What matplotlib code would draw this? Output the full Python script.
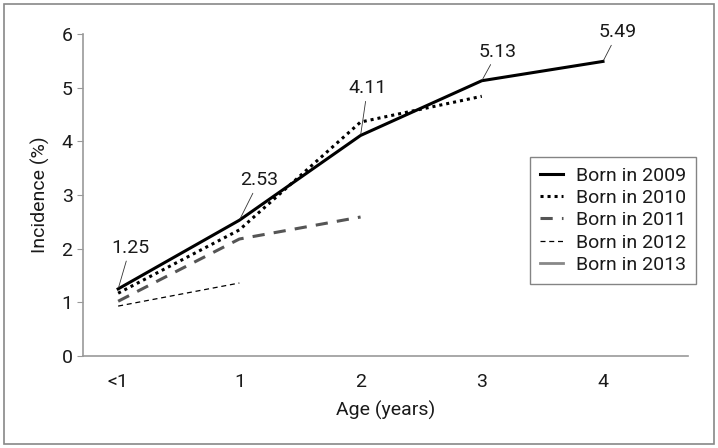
import matplotlib.pyplot as plt
from matplotlib.patches import Rectangle

plt.rcParams['font.family'] = ['Roboto', 'DejaVu Sans']

# Datos
edades = ['<1', '1', '2', '3', '4']
born_2009 = [1.25, 2.53, 4.11, 5.13, 5.49]
born_2010 = [1.17, 2.35, 4.36, 4.84]
born_2011 = [1.02, 2.18, 2.59]
born_2012 = [0.93, 1.36]
born_2013 = [1.0]
etiquetas_2009 = ['1.25', '2.53', '4.11', '5.13', '5.49']
desplaz_etiquetas = [(8.6, 29.5), (14.4, 28.8), (5, 34), (11.5, 21), (10.8, 21)]

texto = '#1a1a1a'

fig = plt.figure(figsize=(7.18, 4.48), dpi=100)
ax = fig.add_axes([0.1156, 0.2054, 0.8424, 0.7186])

# Borde exterior gris
fig.patches.append(Rectangle((0.006, 0.008), 0.988, 0.984, transform=fig.transFigure,
                             fill=False, edgecolor='#888888', linewidth=1.2))

ax.plot(range(len(born_2009)), born_2009, color='black', lw=2.2, ls='-', label='Born in 2009')
ax.plot(range(len(born_2010)), born_2010, color='black', lw=2.2, ls=(0, (1, 1.3)), label='Born in 2010')
ax.plot(range(len(born_2011)), born_2011, color='#555555', lw=2.2, ls=(0, (4, 3)), label='Born in 2011')
ax.plot(range(len(born_2012)), born_2012, color='black', lw=0.9, ls=(0, (4, 3)), label='Born in 2012')
ax.plot(range(len(born_2013)), born_2013, color='#888888', lw=2.0, ls='-', label='Born in 2013')

# Etiquetas con linea guia para 2009
for i, (val, txt) in enumerate(zip(born_2009, etiquetas_2009)):
    ax.annotate(txt, xy=(i, val), xytext=desplaz_etiquetas[i], textcoords='offset points',
                ha='center', va='center', fontsize=14, color=texto,
                arrowprops=dict(arrowstyle='-', color='#333333', lw=0.6, shrinkA=1, shrinkB=1))

ax.set_xlim(-0.29, 4.70)
ax.set_ylim(0, 6)
ax.set_xticks(range(len(edades)))
ax.set_xticklabels(edades)
ax.set_yticks(range(0, 7))
ax.tick_params(axis='x', length=0, pad=12, labelsize=14, colors=texto)
ax.tick_params(axis='y', length=4, color='#999999', labelsize=14, labelcolor=texto)

for s in ['top', 'right']:
    ax.spines[s].set_visible(False)
for s in ['left', 'bottom']:
    ax.spines[s].set_color('#999999')
    ax.spines[s].set_linewidth(1.2)

ax.set_xlabel('Age (years)', fontsize=14, color=texto, labelpad=7)
ax.set_ylabel('Incidence (%)', fontsize=14, color=texto, labelpad=8)

leg = ax.legend(loc='upper right', bbox_to_anchor=(1.013, 0.618), fontsize=14,
                frameon=True, fancybox=False, edgecolor='#666666', handlelength=1.2,
                handletextpad=0.65, borderpad=0.5, labelspacing=0.22, borderaxespad=0)
leg.get_frame().set_linewidth(1.0)
for t in leg.get_texts():
    t.set_color(texto)

fig.savefig('out.png', dpi=100)
